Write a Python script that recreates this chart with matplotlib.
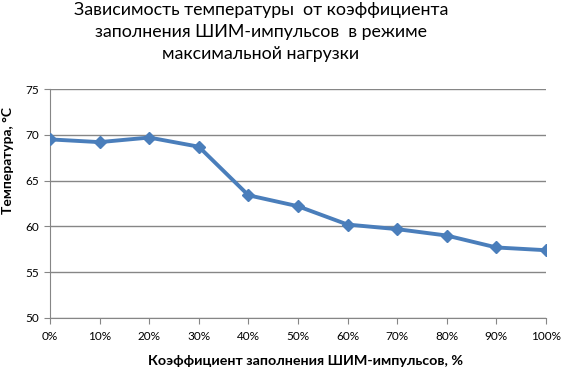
import matplotlib.pyplot as plt

# Data
duty = ['0%', '10%', '20%', '30%', '40%', '50%', '60%', '70%', '80%', '90%', '100%']
temp = [69.5, 69.2, 69.7, 68.7, 63.4, 62.2, 60.2, 59.7, 59.0, 57.7, 57.4]
yticks = [50, 55, 60, 65, 70, 75]

plt.rcParams['font.family'] = ['Lato', 'DejaVu Sans']

fig = plt.figure(figsize=(5.61, 3.70), dpi=100)
ax = fig.add_axes([50/561, 1 - 318/370, 496/561, 229/370])

x = list(range(len(duty)))
ax.plot(x, temp, color='#4A7EBB', linewidth=2.8, marker='D', markersize=6.5,
        markerfacecolor='#4A7EBB', markeredgecolor='#4A7EBB', zorder=3)

ax.set_xlim(0, len(duty) - 1)
ax.set_ylim(50, 75)
ax.set_yticks(yticks)
ax.set_xticks(x)
ax.set_xticklabels(duty, fontsize=8.5)
ax.tick_params(axis='y', labelsize=8.5, length=4, color='#868686', pad=4)
ax.tick_params(axis='x', length=4, color='#868686', pad=5)
ax.grid(axis='y', color='#868686', linewidth=1)
ax.set_axisbelow(True)
for s in ['top', 'right']:
    ax.spines[s].set_visible(False)
for s in ['left', 'bottom']:
    ax.spines[s].set_color('#868686')

ax.set_ylabel('Температура, °С', fontsize=10, fontweight='bold')
ax.yaxis.set_label_coords((8 - 50) / 496, (318 - 161) / 229)
ax.set_xlabel('Коэффициент заполнения ШИМ-импульсов, %', fontsize=10.3,
              fontweight='bold')
ax.xaxis.set_label_coords((305 - 50) / 496, (318 - 361) / 229)
ax.xaxis.label.set_va('center')
ax.yaxis.label.set_va('center')

fig.text(261 / 561, 1 - 2 / 370, 'Зависимость температуры  от коэффициента\n'
         'заполнения ШИМ-импульсов  в режиме\nмаксимальной нагрузки',
         ha='center', va='top', fontsize=12.8, linespacing=1.45)

fig.savefig('out.png', dpi=100)
